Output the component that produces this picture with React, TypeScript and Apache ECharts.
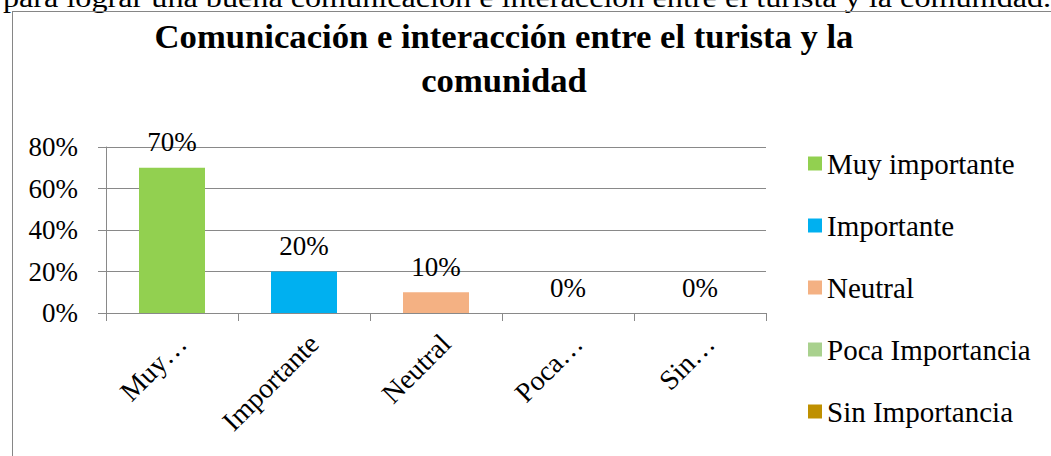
import React, { useEffect, useRef } from "react";
import * as echarts from "echarts";

const categories = ["Muy importante", "Importante", "Neutral", "Poca Importancia", "Sin Importancia"];
const tickLabels = ["Muy…", "Importante", "Neutral", "Poca…", "Sin…"];
const values = [70, 20, 10, 0, 0];
const colors = ["#92D050", "#00B0F0", "#F4B183", "#A9D18E", "#BF9000"];
const yMax = 80;
const yInterval = 20;
const titleText = "Comunicación e interacción entre el turista y la\ncomunidad";
const pageText = "para lograr una buena comunicación e interacción entre el turista y la comunidad.";

const FONT = "'Liberation Serif', 'Times New Roman', serif";

export default function App() {
  const ref = useRef<HTMLDivElement>(null);
  useEffect(() => {
    if (!ref.current) return;
    const chart = echarts.init(ref.current, undefined, { renderer: "svg" });
    const option: any = {
      animation: false,
      backgroundColor: "#ffffff",
      graphic: [
        {
          type: "text",
          x: 3,
          y: -2,
          scaleX: 1.15,
          style: { text: pageText, fontFamily: FONT, fontSize: 28, fill: "#000", textAlign: "left", textVerticalAlign: "middle" },
        },
        {
          type: "line",
          shape: { x1: 12, y1: 11.5, x2: 1051, y2: 11.5 },
          style: { stroke: "#868686", lineWidth: 1 },
        },
        {
          type: "line",
          shape: { x1: 12.5, y1: 11.5, x2: 12.5, y2: 456 },
          style: { stroke: "#868686", lineWidth: 1 },
        },
        {
          type: "text",
          x: 504,
          y: 15,
          scaleX: 1.05,
          style: {
            text: titleText,
            fontFamily: FONT,
            fontSize: 33,
            fontWeight: "bold",
            fill: "#000",
            textAlign: "center",
            textVerticalAlign: "top",
            lineHeight: 44,
          },
        },
      ],
      grid: { left: 106, right: 285, top: 147, bottom: 143, containLabel: false },
      legend: {
        data: categories,
        orient: "vertical",
        left: 808,
        top: 149,
        padding: 0,
        itemWidth: 14,
        itemHeight: 14,
        itemGap: 33,
        icon: "rect",
        selectedMode: false,
        textStyle: { fontFamily: FONT, fontSize: 29, color: "#000" },
      },
      xAxis: {
        type: "category",
        data: tickLabels,
        axisLine: { show: true, lineStyle: { color: "#898989", width: 1 } },
        axisTick: { show: true, length: 8, lineStyle: { color: "#898989" } },
        axisLabel: {
          rotate: 45,
          interval: 0,
          margin: 16,
          verticalAlign: "top",
          fontFamily: FONT,
          fontSize: 28,
          color: "#000",
        },
      },
      yAxis: {
        type: "value",
        min: 0,
        max: yMax,
        interval: yInterval,
        axisLine: { show: true, lineStyle: { color: "#898989", width: 1 } },
        axisTick: { show: true, length: 8, lineStyle: { color: "#898989" } },
        splitLine: { show: true, lineStyle: { color: "#898989", width: 1 } },
        axisLabel: { margin: 28, fontFamily: FONT, fontSize: 27, color: "#000", formatter: "{value}%" },
      },
      series: categories.map((name, i) => ({
        type: "bar",
        name,
        stack: "total",
        barCategoryGap: "50%",
        data: values.map((v, j) => (j === i ? v : null)),
        itemStyle: { color: colors[i] },
        label: {
          show: true,
          position: "top",
          distance: 12,
          fontFamily: FONT,
          fontSize: 27,
          color: "#000",
          formatter: (p: any) => p.value + "%",
        },
      })),
    };
    chart.setOption(option);
    return () => chart.dispose();
  }, []);
  return (
    <div
      ref={ref}
      style={{ position: "absolute", left: 0, top: 0, width: 1051, height: 456, background: "#fff" }}
    />
  );
}
